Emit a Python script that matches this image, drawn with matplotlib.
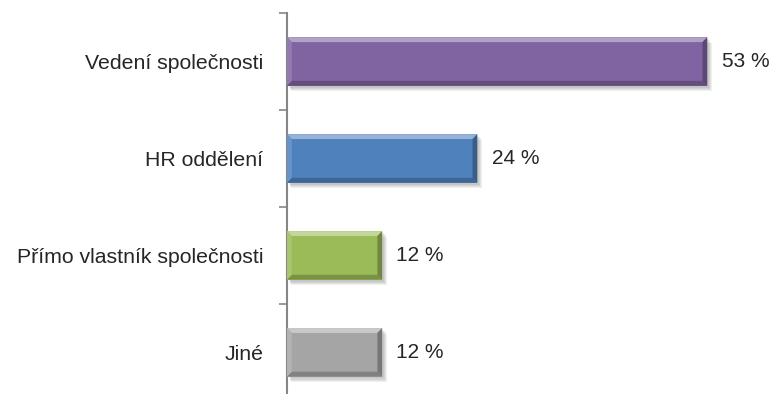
import matplotlib.pyplot as plt
from matplotlib.patches import Polygon, Rectangle
from matplotlib.colors import to_rgb
import numpy as np

plt.rcParams['font.family'] = ['Liberation Sans', 'DejaVu Sans']

kategorie = ['Vedení společnosti', 'HR oddělení', 'Přímo vlastník společnosti', 'Jiné']
podil = [53, 24, 12, 12]
barvy = ['#8064A2', '#4F81BD', '#9BBB59', '#A5A5A5']


def odstin(barva, k):
    c = np.array(to_rgb(barva))
    if k > 0:
        return tuple(c + (1 - c) * k)
    return tuple(c * (1 + k))


fig = plt.figure(figsize=(7.74, 3.94), dpi=100)
ax = fig.add_axes([287 / 774, 0, 1 - 287 / 774, 381 / 394])

vyska = 0.5
bars = ax.barh(range(len(podil)), podil, height=vyska, color=barvy, zorder=3)

# bevel efekt: svetly horni/levy okraj, tmavy spodni/pravy okraj, stin
bx = 0.6    # sirka okraje v procentech
by = 0.05   # vyska okraje v jednotkach osy y
for b, barva in zip(bars, barvy):
    x0, w = b.get_x(), b.get_width()
    yc = b.get_y() + b.get_height() / 2
    top, bot = yc - vyska / 2, yc + vyska / 2
    x1 = x0 + w
    for i in range(4):
        ax.add_patch(Rectangle((x0 + 0.2 + i * 0.12, top + 0.02 + i * 0.012), w, vyska,
                               color='black', alpha=0.06, lw=0, zorder=2))
    ax.add_patch(Polygon([(x0, top), (x1, top), (x1 - bx, top + by), (x0 + bx, top + by)],
                         color=odstin(barva, 0.4), lw=0, zorder=4))
    ax.add_patch(Polygon([(x0, bot), (x1, bot), (x1 - bx, bot - by), (x0 + bx, bot - by)],
                         color=odstin(barva, -0.22), lw=0, zorder=4))
    ax.add_patch(Polygon([(x0, top), (x0 + bx, top + by), (x0 + bx, bot - by), (x0, bot)],
                         color=odstin(barva, 0.15), lw=0, zorder=4))
    ax.add_patch(Polygon([(x1, top), (x1 - bx, top + by), (x1 - bx, bot - by), (x1, bot)],
                         color=odstin(barva, -0.28), lw=0, zorder=4))
    ax.text(x1 + 1.8, yc, f'{int(w)} %', va='center', ha='left',
            fontsize=15, color='#262626')

ax.set_xlim(0, (774 - 287) / 7.93)
ax.set_ylim(3.43, -0.5)

ax.set_yticks(np.arange(-0.5, 3.5, 1))
ax.set_yticklabels([])
ax.set_yticks(range(len(kategorie)), minor=True)
ax.set_yticklabels(kategorie, minor=True, fontsize=15.3, color='#262626')
ax.tick_params(axis='y', which='minor', length=0, pad=17)
ax.tick_params(axis='y', which='major', length=6, width=1.2, color='#868686')
ax.set_xticks([])
for s in ['top', 'right', 'bottom']:
    ax.spines[s].set_visible(False)
ax.spines['left'].set_color('#868686')
ax.spines['left'].set_linewidth(1.5)

fig.savefig('out.png', dpi=100)
